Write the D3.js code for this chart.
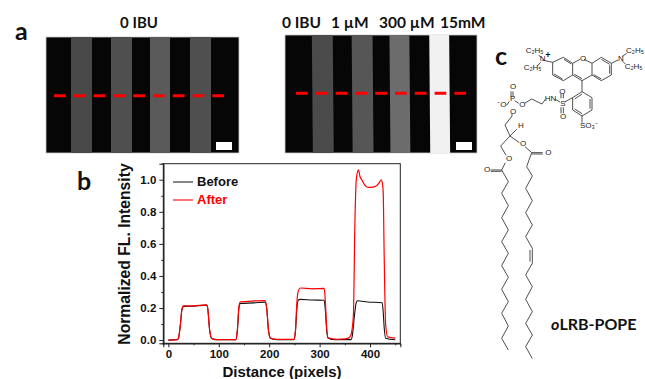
<!DOCTYPE html>
<html lang="en">
<head>
<meta charset="utf-8" />
<title>oLRB-POPE figure</title>
<script src="https://d3js.org/d3.v7.min.js"></script>
<style>
html, body { margin: 0; padding: 0; background: #fff; overflow: hidden; }
svg { display: block; }
.cal { font-family: Lato, "Open Sans", sans-serif; font-weight: 700; fill: #111; }
.ari { font-family: "Liberation Sans", Arial, sans-serif; font-weight: 700; fill: #111; }
.chem { font-family: "Liberation Sans", Arial, sans-serif; fill: #222; font-size: 8px; }
</style>
</head>
<body>
<div id="plot"></div>
<script>
var width = 645, height = 379;

// profile (b), [distance, normalized intensity]
var before = [[0,0],[18,.003],[20,.01],[24,.1],[27,.19],[30,.21],[50,.212],[76,.218],[78,.2],[82,.06],[86,.01],[95,.003],
  [134,.003],[137,.06],[140,.2],[143,.228],[170,.232],[192,.237],[195,.2],[199,.05],[203,.01],[215,.003],
  [249,.003],[252,.05],[255,.2],[258,.25],[262,.254],[285,.25],[309,.248],[311,.2],[314,.06],[317,.012],[330,.002],
  [362,.003],[365,.03],[369,.15],[372,.225],[375,.245],[395,.238],[424,.233],[426,.18],[428,.08],[431,.012],[450,.002]];
var after = [[0,0],[18,.003],[20,.012],[24,.1],[27,.195],[30,.213],[50,.214],[76,.22],[78,.2],[82,.06],[86,.012],[95,.003],
  [134,.003],[137,.07],[140,.21],[143,.238],[170,.244],[192,.246],[195,.2],[199,.05],[203,.012],[215,.004],
  [249,.004],[252,.06],[255,.24],[258,.31],[262,.325],[285,.32],[309,.322],[311,.26],[314,.08],[317,.014],[335,.005],
  [350,.008],[358,.014],[362,.03],[364,.06],[367,.156],[370,.738],[373,1.01],[377,1.062],[380,1.02],[384,.998],[390,.965],[397,.952],
  [405,.954],[413,.963],[418,.98],[422,1.0],[424,.985],[426,.93],[428,.53],[431,.094],[435,.02],[450,.012]];
var xTicks = [0, 100, 200, 300, 400];
var xMinor = [50, 150, 250, 350, 450];
var yTicks = [0, 0.2, 0.4, 0.6, 0.8, 1.0];
var yMinor = [0.1, 0.3, 0.5, 0.7, 0.9];
var legendNames = ["Before", "After"];
var legendColors = ["#111", "#f66"];

// fluorescence stripes (a), [top left, top right, bottom left, bottom right, grey], micrograph pixels
var stripesLeft = [[25,46,25,46,"#484848"],[65,86,65,86,"#505050"],[104,124,104,124,"#5a5a5a"],[144,165,144,165,"#505050"]];
var stripesRight = [[27,48,28,49,"#4c4c4c"],[67,88,68,89,"#565656"],[105,125,106,126,"#6c6c6c"],[145,165,146,166,"#f1f1f1"]];
var leftTitle = ["0 IBU"];
var rightTitles = ["0 IBU", "1 µM", "300 µM", "15mM"];

// molecule (c), bond chains in zoomed sketch units
var bonds = [
  [[186,90],[218,97],[250,82],[278,100],[278,135],[250,152],[218,135],[218,97]],
  [[278,100],[300,88]], [[312,88],[336,100],[336,135],[306,152],[278,135]],
  [[336,100],[364,82],[394,100],[394,135],[364,152],[336,135]],
  [[222,132],[248,147]], [[252,88],[274,102]], [[364,88],[389,103]], [[389,106],[389,131]], [[341,134],[364,147]], [[306,146],[283,133]],
  [[394,100],[414,90]], [[426,80],[440,70]], [[426,92],[436,102]],
  [[176,76],[184,82]], [[172,108],[182,97]],
  [[306,152],[306,185],[336,203],[336,240],[306,258],[278,240],[278,203],[306,185]],
  [[330,207],[330,236]], [[284,207],[306,192]], [[284,237],[306,251]],
  [[278,203],[254,216]], [[306,258],[306,278]],
  [[226,208],[240,216]], [[196,208],[186,222],[155,207],[134,220]], [[116,220],[104,212]],
  [[96,250],[96,258],[75,285],[90,318],[118,338]], [[80,226],[88,214]],
  [[90,318],[110,298]], [[93,184],[93,200]], [[99,184],[99,200]],
  [[90,318],[62,348],[78,376]], [[135,350],[155,368],[140,410]],
  [[155,368],[188,368]], [[155,372],[188,372]],
  [[76,398],[65,420],[32,420]], [[65,424],[32,424]],
  [[65,420],[85,455],[65,490],[85,527],[65,563],[85,600],[65,635],[85,670],[65,707],[85,742],[65,778],[85,815],[65,850],[85,888],[65,925],[85,960]],
  [[140,410],[157,438],[137,475],[157,512],[137,548],[157,585],[137,620],[157,655],[157,700],[137,735],[157,770],[137,808],[157,845],[137,880],[157,915],[137,950],[157,986]],
  [[150,660],[150,695]],
  [[243,190],[243,205]], [[250,190],[250,205]], [[243,232],[243,250]], [[250,232],[250,250]]
];
var chemLabels = [["C₂H₅",137,68],["N",179,94],["C₂H₅",131,119],["O",300,93],["N",414,92],["C₂H₅",438,68],["C₂H₅",434,116],
  ["HN",194,212],["S",241,228],["O",238,193],["O",240,268],["O",118,230],["P",90,214],["O",90,178],["⁻O",52,230],["O",90,252],
  ["H",114,294],["O",120,347],["O",78,392],["O",196,374],["O",12,426],["SO₃⁻",300,295]];

var svg = d3.select("#plot").append("svg").attr("width", width).attr("height", height);
svg.append("filter").attr("id", "soft").append("feGaussianBlur").attr("stdDeviation", 0.5);

function micrograph(x0, x1, y0, y1, stripes, lineY, lineX0, lineX1, barX) {
  var x = d3.scaleLinear().domain([0, 193]).range([x0, x1]);
  var g = svg.append("g");
  g.append("rect").attr("x", x0).attr("y", y0).attr("width", x1 - x0).attr("height", y1 - y0)
    .attr("fill", "#060606").attr("stroke", "#ccc").attr("stroke-width", 0.8);
  g.append("g").attr("filter", "url(#soft)").selectAll("polygon").data(stripes).enter().append("polygon")
    .attr("points", function(d) {
      return [[x(d[0]),y0],[x(d[1]),y0],[x(d[3]),y1],[x(d[2]),y1]].join(" ");
    })
    .attr("fill", function(d) { return d[4]; });
  g.append("line").attr("x1", lineX0).attr("x2", lineX1).attr("y1", lineY).attr("y2", lineY)
    .attr("stroke", "#f00").attr("stroke-width", 3).attr("stroke-dasharray", "11.7 8.1");
  g.append("rect").attr("x", barX).attr("y", 142).attr("width", 16).attr("height", 8).attr("fill", "#fff");
}
micrograph(46, 239, 37, 153, stripesLeft, 95.7, 54, 224, 216);
micrograph(285, 477, 35, 153, stripesRight, 93.3, 296, 466, 456);

svg.append("text").attr("class", "cal").attr("x", 139).attr("y", 28).attr("text-anchor", "middle")
  .style("font-size", "15px").text(leftTitle[0]);
var titleX = [282, 331, 379, 440];
svg.selectAll("text.rt").data(rightTitles).enter().append("text").attr("class", "cal rt")
  .attr("x", function(d, i) { return titleX[i]; }).attr("y", 28)
  .style("font-size", "15.5px").text(function(d) { return d; });

svg.selectAll("text.pl").data([["a",15,40],["b",77,190],["c",495,65]]).enter().append("text")
  .attr("class", "cal pl").attr("x", function(d) { return d[1]; }).attr("y", function(d) { return d[2]; })
  .style("font-size", "25px").text(function(d) { return d[0]; });

// panel b
var left = 163.3, right = 400.3, top_ = 163.7, bottom = 343.3;
var x = d3.scaleLinear().domain([-10, 460]).range([left, right]);
var y = d3.scaleLinear().domain([-0.02, 1.1]).range([bottom, top_]);

function styleAxis(g) {
  g.selectAll("path,line").attr("stroke", "#222").attr("stroke-width", 1);
  g.selectAll("text").attr("class", "ari").style("font-size", "11.5px").attr("font-family", null);
}
svg.append("g").attr("transform", "translate(0," + bottom + ")")
  .call(d3.axisBottom(x).tickValues(xTicks).tickSize(4).tickPadding(3).tickFormat(d3.format("d"))).call(styleAxis);
svg.append("g").attr("transform", "translate(0," + bottom + ")")
  .call(d3.axisBottom(x).tickValues(xMinor).tickSize(2).tickFormat("")).call(styleAxis);
svg.append("g").attr("transform", "translate(" + left + ",0)")
  .call(d3.axisLeft(y).tickValues(yTicks).tickSize(4).tickPadding(3).tickFormat(d3.format(".1f"))).call(styleAxis);
svg.append("g").attr("transform", "translate(" + left + ",0)")
  .call(d3.axisLeft(y).tickValues(yMinor).tickSize(2).tickFormat("")).call(styleAxis);
svg.append("rect").attr("x", left).attr("y", top_).attr("width", right - left).attr("height", bottom - top_)
  .attr("fill", "none").attr("stroke", "#222").attr("stroke-width", 1);

var line = d3.line().x(function(d) { return x(d[0]); }).y(function(d) { return y(d[1]); }).curve(d3.curveMonotoneX);
svg.append("path").attr("d", line(before)).attr("fill", "none").attr("stroke", "#111").attr("stroke-width", 1.1);
svg.append("path").attr("d", line(after)).attr("fill", "none").attr("stroke", "#f00").attr("stroke-width", 1.2);

legendNames.forEach(function(n, i) {
  var ly = 182 + i * 18;
  svg.append("line").attr("x1", 173).attr("x2", 193).attr("y1", ly).attr("y2", ly)
    .attr("stroke", legendColors[i]).attr("stroke-width", i ? 1.8 : 1);
  svg.append("text").attr("class", "ari").attr("x", 197).attr("y", ly + 4).style("font-size", "13px")
    .style("fill", i ? "#f00" : "#111").text(n);
});
svg.append("text").attr("class", "ari").attr("x", 282).attr("y", 376.5).attr("text-anchor", "middle")
  .style("font-size", "15px").text("Distance (pixels)");
svg.append("text").attr("class", "ari").attr("transform", "translate(130,254) rotate(-90)").attr("text-anchor", "middle")
  .style("font-size", "15.7px").text("Normalized FL. Intensity");

// panel c
var mx = d3.scaleLinear().domain([0, 495]).range([480, 645]);
var my = d3.scaleLinear().domain([0, 1000]).range([30, 363.3]);
var bond = d3.line().x(function(d) { return mx(d[0]); }).y(function(d) { return my(d[1]); });
svg.append("g").selectAll("path").data(bonds).enter().append("path")
  .attr("d", bond).attr("fill", "none").attr("stroke", "#222").attr("stroke-width", 0.8);
svg.append("g").selectAll("text").data(chemLabels).enter().append("text").attr("class", "chem")
  .attr("x", function(d) { return mx(d[1]); }).attr("y", function(d) { return my(d[2]); })
  .text(function(d) { return d[0]; });
svg.append("text").attr("class", "ari").attr("x", mx(196)).attr("y", my(84)).style("font-size", "9px").text("+");
var lipidName = svg.append("text").attr("class", "cal").attr("x", 551).attr("y", 330).style("font-size", "16px");
lipidName.append("tspan").style("font-style", "italic").text("o");
lipidName.append("tspan").text("LRB-POPE");
</script>
</body>
</html>
